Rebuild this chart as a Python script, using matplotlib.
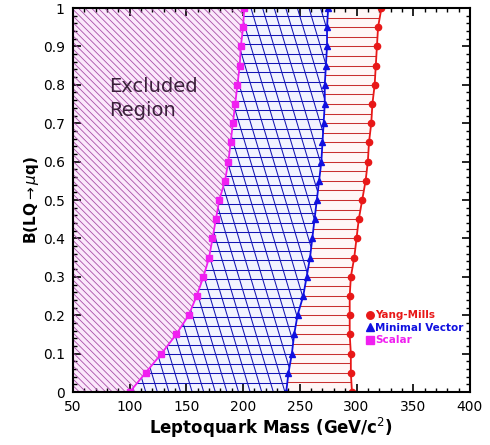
import numpy as np
import matplotlib
matplotlib.use("Agg")
import matplotlib.pyplot as plt
from matplotlib.collections import LineCollection
from matplotlib.ticker import MultipleLocator, FuncFormatter

# branching ratio grid and mass limits (GeV/c^2)
br = [0.0, 0.05, 0.10, 0.15, 0.20, 0.25, 0.30, 0.35, 0.40, 0.45, 0.50,
      0.55, 0.60, 0.65, 0.70, 0.75, 0.80, 0.85, 0.90, 0.95, 1.0]
m_scalar = [100, 114, 128, 141, 152, 159, 165, 170, 173, 176, 179,
            184, 187, 189, 191, 193, 195, 197, 198, 200, 201]
m_vector = [238, 240, 243, 245, 248, 253, 256, 259, 261, 263, 265,
            267, 269, 270, 271, 272, 272, 273, 274, 274, 275]
m_ym = [296, 295, 295, 294, 294, 294, 295, 298, 300, 302, 305,
        308, 310, 311, 313, 314, 316, 317, 318, 319, 322]

xmin, xmax = 50, 400

fig = plt.figure(figsize=(4.9, 4.45), dpi=100)
ax = fig.add_axes([0.149, 0.119, 0.81, 0.863])
ax.set_xlim(xmin, xmax)
ax.set_ylim(0, 1)

# axes size in pixels, used to lay hatch lines out in screen space
W, H = 397.0, 384.0


def px2data(px, py):
    return xmin + np.asarray(px) * (xmax - xmin) / W, np.asarray(py) / H


def hatch(region, segs_px, color, lw=0.8):
    segs = []
    for (x0, y0), (x1, y1) in segs_px:
        xa, ya = px2data([x0, x1], [y0, y1])
        segs.append(list(zip(xa, ya)))
    lc = LineCollection(segs, colors=color, linewidths=lw, zorder=2)
    ax.add_collection(lc)
    lc.set_clip_path(region.get_paths()[0], ax.transData)


def horiz(step):
    return [((-10, y), (W + 10, y)) for y in np.arange(0, H + step, step)]


def slant(step, dx_per_dy):
    # lines going down to the right
    out = []
    for x0 in np.arange(-H * dx_per_dy - 20, W + 20, step):
        out.append(((x0, H), (x0 + H * dx_per_dy, 0)))
    return out


# scalar region (left of scalar limit)
reg_s = ax.fill_betweenx(br, xmin, m_scalar, color="#fbe8fb", lw=0, zorder=1)
hatch(reg_s, slant(6.6, 1.0), "#a850a8", lw=0.6)

# minimal vector region
reg_v = ax.fill_betweenx(br, m_scalar, m_vector, color="#f2f3ff", lw=0, zorder=1)
hatch(reg_v, horiz(9.4) + slant(11.6, 0.3), "#1414b4", lw=0.75)

# Yang-Mills region
reg_y = ax.fill_betweenx(br, m_vector, m_ym, color="#fff6f6", lw=0, zorder=1)
hatch(reg_y, horiz(9.6), "#c83030", lw=0.75)

# limit curves with markers
ax.plot(m_ym, br, color="#e81818", lw=1.3, marker="o", ms=4.5,
        zorder=4, label="Yang-Mills")
ax.plot(m_vector, br, color="#1010e0", lw=1.3, marker="^", ms=4.5,
        zorder=4, label="Minimal Vector")
ax.plot(m_scalar, br, color="#f020f0", lw=1.3, marker="s", ms=4.5,
        zorder=4, label="Scalar")

ax.text(82, 0.765, "Excluded\nRegion", fontsize=14, color="#3a203a",
        va="center", ha="left", linespacing=1.3, zorder=5)

leg = ax.legend(loc="lower right", bbox_to_anchor=(1.0, 0.105), frameon=False,
                alignment="right", labelcolor="linecolor", handlelength=0.6,
                handletextpad=0.2, borderpad=0.1, labelspacing=0.25,
                prop={"size": 7.5, "weight": "bold"}, markerscale=1.2)
for h in leg.legend_handles:
    h.set_linestyle("none")

ax.xaxis.set_major_locator(MultipleLocator(50))
ax.xaxis.set_minor_locator(MultipleLocator(10))
ax.yaxis.set_major_locator(MultipleLocator(0.1))
ax.yaxis.set_minor_locator(MultipleLocator(0.02))
ax.yaxis.set_major_formatter(FuncFormatter(lambda v, p: f"{v:g}"))
ax.tick_params(which="both", direction="in", top=True, right=True, labelsize=10)
ax.tick_params(which="major", length=6, width=1.2)
ax.tick_params(which="minor", length=3, width=1.0)
ax.tick_params(axis="x", which="major", pad=6)
ax.tick_params(axis="y", which="major", pad=6)
for s in ax.spines.values():
    s.set_linewidth(1.5)
    s.set_zorder(6)

ax.set_xlabel("Leptoquark Mass (GeV/c$^2$)", fontsize=12, fontweight="bold",
              labelpad=1)
ax.set_ylabel("B(LQ$\\rightarrow\\mu$q)", fontsize=11, fontweight="bold",
              labelpad=1)

fig.savefig("out.png", dpi=100)
